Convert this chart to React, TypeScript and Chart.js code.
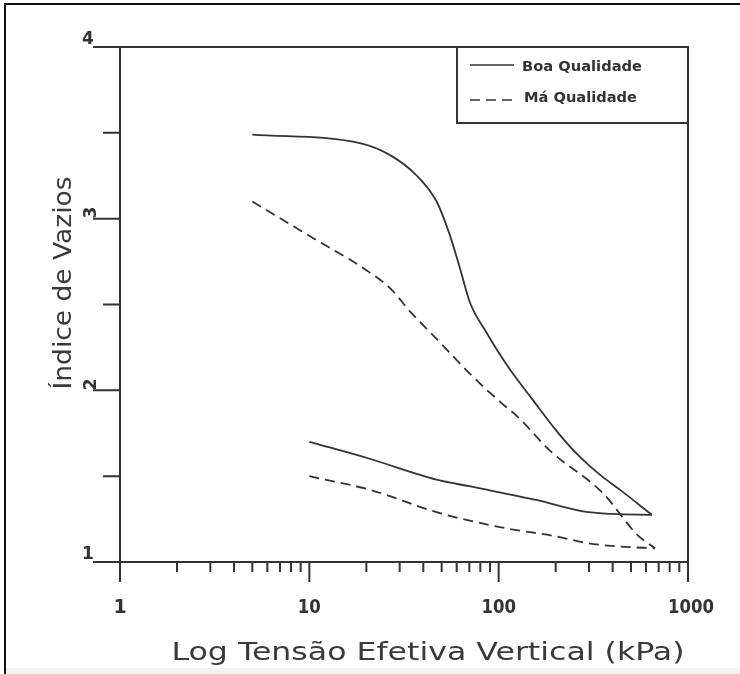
import React, { useEffect, useRef } from 'react';
import { Chart, registerables } from 'chart.js';

Chart.register(...registerables);

// ---- Data ----
const boaLoadingX = [5, 18.5, 26.7, 37, 47, 55, 62.5, 70.6, 87, 100, 115, 150, 200, 259, 350, 438, 644];
const boaLoadingY = [3.49, 3.44, 3.37, 3.25, 3.1, 2.91, 2.71, 2.51, 2.33, 2.22, 2.12, 1.95, 1.77, 1.63, 1.5, 1.42, 1.275];
const boaUnloadingX = [10, 21, 47, 71, 160, 279, 400, 644];
const boaUnloadingY = [1.7, 1.6, 1.48, 1.44, 1.36, 1.295, 1.28, 1.275];
const maLoadingX = [5, 10, 20, 27, 34, 47, 73, 105, 125, 186, 356, 538, 670];
const maLoadingY = [3.1, 2.9, 2.7, 2.59, 2.46, 2.3, 2.08, 1.92, 1.85, 1.65, 1.4, 1.16, 1.08];
const maUnloadingX = [10, 21, 47, 105, 200, 293, 438, 670];
const maUnloadingY = [1.5, 1.42, 1.29, 1.2, 1.15, 1.11, 1.09, 1.08];

const seriesNames = ['Boa Qualidade', 'Má Qualidade'];
const xMajorTicks = [1, 10, 100, 1000];
const xTickLabels = ['1', '10', '100', '1000'];
const yMajorTicks = [1, 2, 3, 4];
const yTickLabels = ['1', '2', '3', '4'];
const yMinorTicks = [1.5, 2.5, 3.5];
const xTitle = 'Log Tensão Efetiva Vertical (kPa)';
const yTitle = 'Índice de Vazios';

const LINE = '#333333';
const DASH = [10, 6];
const FONT = '"DejaVu Sans"';

const toPoints = (xs: number[], ys: number[]) => xs.map((x, i) => ({ x, y: ys[i] }));

function fitText(
  ctx: CanvasRenderingContext2D,
  text: string,
  x: number,
  y: number,
  width: number | null,
  size: number,
  align: CanvasTextAlign,
  rotate = 0,
  baseline: CanvasTextBaseline = 'alphabetic',
  weight = 'normal',
  color = '#2a2a2a'
) {
  ctx.save();
  ctx.font = `${weight} ${size}px ${FONT}`;
  const w = ctx.measureText(text).width;
  const sx = width ? width / w : 1;
  ctx.translate(x, y);
  if (rotate) ctx.rotate(rotate);
  ctx.scale(sx, 1);
  ctx.textAlign = align;
  ctx.textBaseline = baseline;
  ctx.fillStyle = color;
  ctx.fillText(text, 0, 0);
  ctx.restore();
}

const decorPlugin = {
  id: 'decor',
  beforeDraw(chart: any) {
    const ctx: CanvasRenderingContext2D = chart.ctx;
    ctx.save();
    ctx.fillStyle = '#ffffff';
    ctx.fillRect(0, 0, chart.width, chart.height);
    // outer frame (top & left)
    ctx.strokeStyle = '#111';
    ctx.lineWidth = 2;
    ctx.beginPath();
    ctx.moveTo(5, chart.height);
    ctx.lineTo(5, 4);
    ctx.lineTo(chart.width, 4);
    ctx.stroke();
    ctx.fillStyle = '#f2f2f2';
    ctx.fillRect(6, 668, chart.width, 6);
    ctx.restore();
  },
  afterDraw(chart: any) {
    const ctx: CanvasRenderingContext2D = chart.ctx;
    const xs = chart.scales.x;
    const ys = chart.scales.y;
    const { left, right, top, bottom } = chart.chartArea;
    ctx.save();
    ctx.strokeStyle = LINE;
    ctx.lineWidth = 2;
    ctx.lineCap = 'butt';
    // axes box
    ctx.beginPath();
    ctx.moveTo(left - 27, top);
    ctx.lineTo(right, top);
    ctx.lineTo(right, bottom + 20);
    ctx.moveTo(left - 27, bottom);
    ctx.lineTo(right, bottom);
    ctx.moveTo(left, top);
    ctx.lineTo(left, bottom + 20);
    ctx.stroke();
    // y ticks
    ctx.beginPath();
    yMajorTicks.forEach((v) => {
      const py = ys.getPixelForValue(v);
      ctx.moveTo(left - 27, py);
      ctx.lineTo(left, py);
    });
    yMinorTicks.forEach((v) => {
      const py = ys.getPixelForValue(v);
      ctx.moveTo(left - 17, py);
      ctx.lineTo(left, py);
    });
    // x ticks
    for (let d = 0; d < xMajorTicks.length; d++) {
      const base = xMajorTicks[d];
      const px = xs.getPixelForValue(base);
      ctx.moveTo(px, bottom);
      ctx.lineTo(px, bottom + 20);
      if (d < xMajorTicks.length - 1) {
        for (let m = 2; m <= 9; m++) {
          const mx = xs.getPixelForValue(base * m);
          ctx.moveTo(mx, bottom);
          ctx.lineTo(mx, bottom + 10);
        }
      }
    }
    ctx.stroke();

    // x tick labels
    xMajorTicks.forEach((v, i) => {
      const px = xs.getPixelForValue(v);
      const lbl = xTickLabels[i];
      fitText(ctx, lbl, px + (lbl.length > 3 ? 3 : 0), bottom + 51, lbl.length > 1 ? lbl.length * 11.5 : null, 19, 'center', 0, 'alphabetic', 'bold', '#333');
    });
    // y tick labels: 1 and 4 horizontal, 2 and 3 rotated
    yMajorTicks.forEach((v, i) => {
      const py = ys.getPixelForValue(v);
      const lbl = yTickLabels[i];
      if (v === 1 || v === 4) {
        fitText(ctx, lbl, left - 32, py + 1, null, 17, 'center', 0, 'bottom', 'bold', '#333');
      } else {
        fitText(ctx, lbl, left - 28, py - 6, null, 17, 'center', -Math.PI / 2, 'middle', 'bold', '#333');
      }
    });
    // axis titles
    fitText(ctx, xTitle, 428, 660, 513, 24, 'center', 0, 'alphabetic', 'normal', '#3a3a3a');
    fitText(ctx, yTitle, 71, 283, 213, 24, 'center', -Math.PI / 2, 'alphabetic', 'normal', '#3a3a3a');

    // legend box
    const lx0 = 457;
    const ly0 = top;
    const lx1 = right;
    const ly1 = 123;
    ctx.fillStyle = '#ffffff';
    ctx.fillRect(lx0, ly0, lx1 - lx0, ly1 - ly0);
    ctx.strokeRect(lx0, ly0, lx1 - lx0, ly1 - ly0);
    ctx.strokeStyle = LINE;
    ctx.lineWidth = 1.6;
    ctx.beginPath();
    ctx.moveTo(470, 65);
    ctx.lineTo(514, 65);
    ctx.stroke();
    ctx.setLineDash(DASH);
    ctx.beginPath();
    ctx.moveTo(470, 100);
    ctx.lineTo(516, 100);
    ctx.stroke();
    ctx.setLineDash([]);
    fitText(ctx, seriesNames[0], 522, 71, 120, 14, 'left', 0, 'alphabetic', 'bold', '#333');
    fitText(ctx, seriesNames[1], 524, 102, 113, 14, 'left', 0, 'alphabetic', 'bold', '#333');
    ctx.restore();
  },
};

export default function App() {
  const ref = useRef<HTMLCanvasElement | null>(null);
  useEffect(() => {
    if (!ref.current) return;
    const common = {
      borderColor: LINE,
      borderWidth: 1.8,
      pointRadius: 0,
      fill: false,
      cubicInterpolationMode: 'monotone' as const,
    };
    const chart = new Chart(ref.current, {
      type: 'line',
      data: {
        datasets: [
          { ...common, label: seriesNames[0], data: toPoints(boaLoadingX, boaLoadingY) },
          { ...common, label: seriesNames[0] + ' (descarga)', data: toPoints(boaUnloadingX, boaUnloadingY) },
          { ...common, label: seriesNames[1], borderDash: DASH, data: toPoints(maLoadingX, maLoadingY) },
          { ...common, label: seriesNames[1] + ' (descarga)', borderDash: DASH, data: toPoints(maUnloadingX, maUnloadingY) },
        ],
      },
      options: {
        animation: false,
        responsive: false,
        devicePixelRatio: 1,
        layout: { padding: { left: 0, right: 52, top: 47, bottom: 0 } },
        plugins: { legend: { display: false }, tooltip: { enabled: false }, title: { display: false } },
        scales: {
          x: {
            type: 'logarithmic',
            min: 1,
            max: 1000,
            grid: { display: false },
            border: { display: false },
            ticks: { display: false },
            afterFit: (s: any) => {
              s.height = 112;
            },
          },
          y: {
            type: 'linear',
            min: 1,
            max: 4,
            grid: { display: false },
            border: { display: false },
            ticks: { display: false },
            afterFit: (s: any) => {
              s.width = 120;
            },
          },
        },
      },
      plugins: [decorPlugin],
    });
    return () => chart.destroy();
  }, []);
  return (
    <div style={{ position: 'fixed', left: 0, top: 0, width: 740, height: 674, background: '#fff' }}>
      <canvas ref={ref} width={740} height={674} style={{ display: 'block', width: 740, height: 674 }} />
    </div>
  );
}
